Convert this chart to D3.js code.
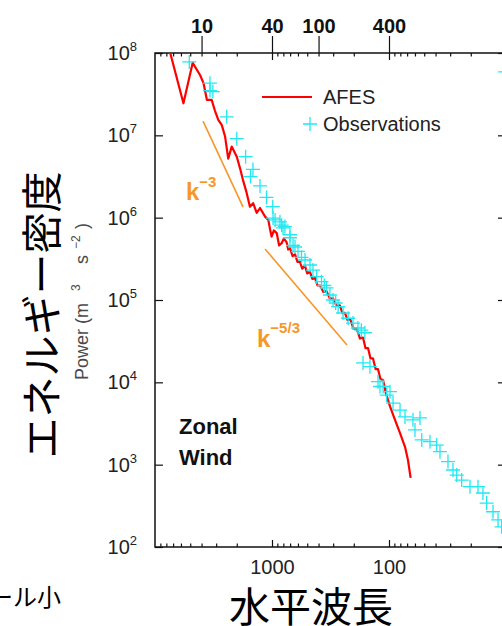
<!DOCTYPE html>
<html>
<head>
<meta charset="utf-8">
<script src="https://cdn.jsdelivr.net/npm/d3@7"></script>
<style>
  body { margin: 0; background: #fff; }
  svg { display: block; font-family: "Liberation Sans", Arial, sans-serif; }
  .jp { font-family: "Noto Sans CJK JP", sans-serif; }
</style>
</head>
<body>
<div id="chart"></div>
<script>
// tick values
const wavenumberTicks = [10, 40, 100, 400];
const wavelengthMajor = [1000, 100];
const wavelengthMinor = [9000, 8000, 7000, 6000, 5000, 4000, 3000, 2000,
                         900, 800, 700, 600, 500, 400, 300, 200,
                         90, 80, 70, 60, 50, 40, 30, 20];
const powerTicks = [1e2, 1e3, 1e4, 1e5, 1e6, 1e7, 1e8];

// AFES spectrum (wavenumber, power)
const afesK = [5.4, 7.0, 8.4, 9.7, 10.4, 11.1, 12.2, 13.0, 13.9, 14.9, 15.9, 16.9, 18.1, 20.0,
  21.3, 22.6, 24.3, 25.9, 27.6, 29.6, 31.6, 34.9, 37.2, 38.5, 39.7, 41.5, 43.9, 46.0, 48.4,
  50.5, 53.4, 55.0, 57.0, 60.0, 62.9, 66.0, 69.4, 72.5, 76.6, 80.0, 84.5, 88.5, 93.3, 98.0,
  103, 110, 117, 125, 133, 142, 152, 160, 168, 177, 186, 199, 212, 226, 240, 252, 265, 278,
  292, 307, 322, 338, 356, 376, 408, 450, 497, 548, 581, 612];
const afesPower = [1.0e8, 2.45e7, 7.6e7, 5.4e7, 4.3e7, 2.7e7, 2.7e7, 2.0e7, 1.54e7, 1.33e7,
  9.6e6, 5.2e6, 7.3e6, 5.5e6, 4.0e6, 2.86e6, 2.0e6, 1.36e6, 1.5e6, 1.14e6, 1.31e6, 1.03e6,
  9.4e5, 7.2e5, 5.9e5, 7.0e5, 6.5e5, 4.6e5, 4.9e5, 5.6e5, 5.0e5, 4.1e5, 4.3e5, 3.4e5, 3.6e5,
  2.9e5, 2.9e5, 2.4e5, 2.6e5, 2.1e5, 2.2e5, 1.8e5, 1.85e5, 1.5e5, 1.5e5, 1.25e5, 1.28e5,
  1.04e5, 1.05e5, 8.5e4, 8.6e4, 6.9e4, 7.0e4, 5.7e4, 5.9e4, 4.5e4, 4.5e4, 3.4e4, 3.5e4,
  2.6e4, 2.6e4, 1.95e4, 1.95e4, 1.45e4, 1.45e4, 1.1e4, 1.07e4, 7.4e3, 5.1e3, 3.5e3, 2.42e3,
  1.65e3, 1.14e3, 690];

// observations (wavenumber, power)
const obsK = [7.85, 11.8, 11.8, 12.5, 16.4, 20.0, 23.8, 27.5, 26.2, 31.6, 35.9, 40.6, 40.8,
  46.8, 51.6, 42.5, 48.4, 49.7, 57.0, 57.0, 62.9, 66.7, 60.5, 71.5, 76.6, 84.5, 89.6, 96.4,
  106, 112, 117, 125, 133, 140, 147, 162, 179, 197, 217, 232, 249, 240, 275, 322, 335, 356,
  382, 408, 433, 497, 548, 641, 736, 667, 762, 896, 1023, 1091, 1277, 1409, 1516, 1671,
  1969, 2305, 2541, 2733, 3097, 3420, 3670];
const obsPower = [7.8e7, 4.3e7, 3.5e7, 3.4e7, 1.68e7, 9.1e6, 5.5e6, 3.85e6, 3.16e6, 2.43e6,
  1.76e6, 1.36e6, 9.9e5, 8.9e5, 7.8e5, 9.4e5, 8.1e5, 7.5e5, 6.2e5, 5.7e5, 4.4e5, 3.9e5,
  4.6e5, 3.3e5, 3.06e5, 2.66e5, 2.31e5, 1.92e5, 1.67e5, 1.5e5, 1.40e5, 1.15e5, 1.0e5, 9.2e4,
  8.3e4, 6.95e4, 6.0e4, 5.25e4, 4.57e4, 4.3e4, 4.0e4, 1.72e4, 1.55e4, 1.02e4, 8.9e3, 8.9e3,
  7.0e3, 7.7e3, 5.6e3, 4.6e3, 3.8e3, 3.5e3, 3.7e3, 2.64e3, 2.0e3, 1.9e3, 1.73e3, 1.44e3,
  1.09e3, 861, 748, 650, 540, 540, 453, 342, 268, 213, 176];

// marker cut off at the right edge
const edgeK = [3930];
const edgePower = [5.9e7];

// reference slopes
const slope3K = [10.3, 22.6];
const slope3Power = [1.49e7, 1.35e6];
const slope53K = [34.9, 175];
const slope53Power = [4.16e5, 2.84e4];

const width = 502;
const height = 626;
const plotLeft = 155, plotRight = 506, plotTop = 53, plotBottom = 547;

const svg = d3.select('#chart').append('svg')
    .attr('width', width)
    .attr('height', height);

const x = d3.scaleLog().domain([4, 4000]).range([plotLeft, plotRight]);
const xl = d3.scaleLog().domain([10000, 10]).range([plotLeft, plotRight]);
const y = d3.scaleLog().domain([1e2, 1e8]).range([plotBottom, plotTop]);

const plus = 'M-7,0H7M0,-7V7';
const cyan = '#22e8f2';
const orange = '#f7962a';

// axes
function styleAxis(g) {
    g.select('.domain').remove();
    g.selectAll('.tick line').attr('stroke', '#111').attr('stroke-width', 1.2);
    g.selectAll('.tick text').attr('fill', '#111');
}

svg.append('g').attr('transform', `translate(0,${plotBottom})`)
    .call(d3.axisBottom(xl).tickValues(wavelengthMinor).tickSize(-3.5).tickFormat(''))
    .call(styleAxis);
svg.append('g').attr('transform', `translate(0,${plotBottom})`)
    .call(d3.axisBottom(xl).tickValues(wavelengthMajor).tickSize(-7).tickPadding(13).tickFormat(d3.format('d')))
    .call(styleAxis)
    .selectAll('text').attr('font-size', 20).attr('fill', '#222');

svg.append('g').attr('transform', `translate(0,${plotTop})`)
    .call(d3.axisTop(xl).tickValues(wavelengthMinor).tickSize(-3.5).tickFormat(''))
    .call(styleAxis);
svg.append('g').attr('transform', `translate(0,${plotTop})`)
    .call(d3.axisTop(xl).tickValues(wavelengthMajor).tickSize(-7).tickFormat(''))
    .call(styleAxis);
svg.append('g').attr('transform', `translate(0,${plotTop})`)
    .call(d3.axisTop(x).tickValues(wavenumberTicks).tickSize(17).tickPadding(3).tickFormat(d3.format('d')))
    .call(styleAxis)
    .selectAll('text').attr('font-size', 20).attr('font-weight', 'bold');

svg.append('g').attr('transform', `translate(${plotLeft},0)`)
    .call(d3.axisLeft(y).tickValues(powerTicks).tickSize(-8).tickPadding(18))
    .call(styleAxis)
    .selectAll('.tick text')
    .each(function(d) {
        const t = d3.select(this).text(null).attr('font-size', 20).attr('fill', '#222');
        t.append('tspan').text('10');
        t.append('tspan').attr('dy', -9).attr('font-size', 13).text(Math.round(Math.log10(d)));
    });

svg.append('g').attr('transform', `translate(${plotRight},0)`)
    .call(d3.axisRight(y).tickValues(powerTicks).tickSize(-8).tickFormat(''))
    .call(styleAxis);

svg.append('rect')
    .attr('x', plotLeft).attr('y', plotTop)
    .attr('width', plotRight - plotLeft).attr('height', plotBottom - plotTop)
    .attr('fill', 'none').attr('stroke', '#111').attr('stroke-width', 1.5);

// data
const plot = svg.append('g');
svg.append('clipPath').attr('id', 'clip').append('rect')
    .attr('x', plotLeft).attr('y', plotTop)
    .attr('width', plotRight - plotLeft).attr('height', plotBottom - plotTop);

const line = d3.line().x(d => x(d[0])).y(d => y(d[1]));

plot.append('path')
    .datum(slope3K.map((k, i) => [k, slope3Power[i]]))
    .attr('d', line).attr('fill', 'none').attr('stroke', orange).attr('stroke-width', 1.6);
plot.append('path')
    .datum(slope53K.map((k, i) => [k, slope53Power[i]]))
    .attr('d', line).attr('fill', 'none').attr('stroke', orange).attr('stroke-width', 1.6);

plot.append('path')
    .datum(afesK.map((k, i) => [k, afesPower[i]]))
    .attr('clip-path', 'url(#clip)')
    .attr('d', line)
    .attr('fill', 'none').attr('stroke', '#f00').attr('stroke-width', 2.2).attr('stroke-linejoin', 'round');

plot.append('g').attr('clip-path', 'url(#clip)')
    .selectAll('path.obs')
    .data(obsK.map((k, i) => [k, obsPower[i]]))
    .enter().append('path')
    .attr('class', 'obs')
    .attr('d', plus)
    .attr('transform', d => `translate(${x(d[0])},${y(d[1])})`)
    .attr('stroke', cyan).attr('stroke-width', 1.3).attr('fill', 'none');

svg.selectAll('path.edge')
    .data(edgeK.map((k, i) => [k, edgePower[i]]))
    .enter().append('path')
    .attr('class', 'edge')
    .attr('d', plus)
    .attr('transform', d => `translate(${x(d[0])},${y(d[1])})`)
    .attr('stroke', cyan).attr('stroke-width', 1.3);

// legend
svg.append('line').attr('x1', 262).attr('x2', 312).attr('y1', 97).attr('y2', 97)
    .attr('stroke', '#f00').attr('stroke-width', 2.2);
svg.append('text').attr('x', 323).attr('y', 104).attr('font-size', 20).attr('fill', '#222').text('AFES');
svg.append('path').attr('d', plus).attr('transform', 'translate(310,124)')
    .attr('stroke', cyan).attr('stroke-width', 1.3);
svg.append('text').attr('x', 323).attr('y', 131).attr('font-size', 20).attr('fill', '#222').text('Observations');

// slope labels
const k3 = svg.append('text').attr('x', 186).attr('y', 200).attr('fill', orange)
    .attr('font-weight', 'bold').attr('font-size', 24);
k3.append('tspan').text('k');
k3.append('tspan').attr('dy', -13).attr('font-size', 15).text('−3');

const k53 = svg.append('text').attr('x', 257).attr('y', 347).attr('fill', orange)
    .attr('font-weight', 'bold').attr('font-size', 24);
k53.append('tspan').text('k');
k53.append('tspan').attr('dy', -14).attr('font-size', 15).text('−5/3');

// panel label
svg.append('text').attr('x', 179).attr('y', 434).attr('font-size', 22)
    .attr('font-weight', 'bold').attr('fill', '#111').text('Zonal');
svg.append('text').attr('x', 179).attr('y', 465).attr('font-size', 22)
    .attr('font-weight', 'bold').attr('fill', '#111').text('Wind');

// y label
const yl = svg.append('text')
    .attr('transform', 'translate(88,380) rotate(-90)')
    .attr('font-size', 18).attr('fill', '#4a4a4a');
yl.append('tspan').attr('x', 0).text('Power (m');
yl.append('tspan').attr('x', 89).attr('dy', -8).attr('font-size', 12).text('3');
yl.append('tspan').attr('x', 116).attr('dy', 8).text('s');
yl.append('tspan').attr('x', 131).attr('dy', -8).attr('font-size', 12).text('−2');
yl.append('tspan').attr('x', 151).attr('dy', 8).text(')');

// japanese titles
svg.append('text').attr('class', 'jp')
    .attr('transform', 'translate(39,315) rotate(-90)')
    .attr('text-anchor', 'middle').attr('dominant-baseline', 'central')
    .attr('font-size', 41).attr('fill', '#000').text('エネルギー密度');

svg.append('text').attr('class', 'jp')
    .attr('x', 311).attr('y', 604)
    .attr('text-anchor', 'middle').attr('dominant-baseline', 'central')
    .attr('font-size', 41).attr('fill', '#000').text('水平波長');

svg.append('text').attr('class', 'jp')
    .attr('x', 61).attr('y', 595)
    .attr('text-anchor', 'end').attr('dominant-baseline', 'central')
    .attr('font-size', 24).attr('fill', '#000').text('スケール小');
</script>
</body>
</html>
